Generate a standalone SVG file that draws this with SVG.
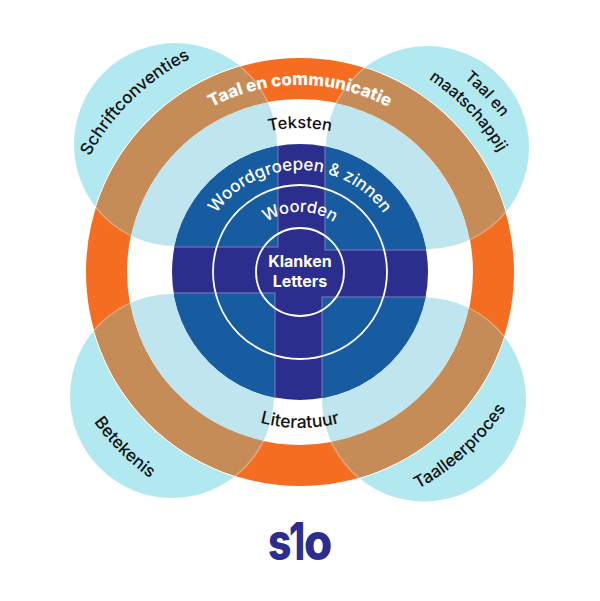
<svg xmlns="http://www.w3.org/2000/svg" width="600" height="601" viewBox="0 0 600 601">
<style>
text{font-family:Inter,"Noto Sans","Liberation Sans",sans-serif}
.b{fill:#111;font-size:17px;font-weight:500}
.w{fill:#fff;font-size:17px;font-weight:500}
.m{text-anchor:middle}
.q{fill:#175ca0;stroke:#7272ba;stroke-width:1.2}
.l{fill:none;stroke:#fff;stroke-width:1.8}
.e{fill:none;stroke:#fff;stroke-opacity:.3;stroke-width:1.5}
</style>
<defs>
<clipPath id="cu"><circle cx="175.5" cy="144.5" r="101.5"/><circle cx="427.5" cy="147.5" r="101.5"/><circle cx="172" cy="396" r="102"/><circle cx="424" cy="399.5" r="102"/></clipPath>
<clipPath id="ci"><circle cx="300" cy="272" r="173"/></clipPath>
<clipPath id="cr"><path clip-rule="evenodd" d="M86 272a214 214 0 1 0 428 0a214 214 0 1 0-428 0zM127 272a173 173 0 1 0 346 0a173 173 0 1 0-346 0z"/></clipPath>
<clipPath id="cd"><circle cx="300" cy="272" r="128"/></clipPath>
<path id="p1" d="M60.6 289.6A240 240 0 0 1 324.3 33.2"/>
<path id="p2" d="M327.9 19.6A254 254 0 0 1 553.5 256.3"/>
<path id="p3" d="M285 40.5A232 232 0 0 1 530.6 297.7"/>
<path id="p4" d="M46 294.2A255 255 0 0 0 277.8 526"/>
<path id="p5" d="M267.8 516.9A247 247 0 0 0 546.8 261.2"/>
<path id="p6" d="M124.3 208A187 187 0 0 1 475.7 208"/>
<path id="p7" d="M175.3 200A144 144 0 0 1 424.7 200"/>
<path id="p8" d="M164.9 350A156 156 0 0 0 435.1 350"/>
<path id="p9" d="M199.6 254A102 102 0 0 1 400.4 254"/>
<path id="p10" d="M240.2 267A60 60 0 0 1 359.8 267"/>
</defs>
<rect width="600" height="601" fill="#fff"/>
<g id="circles" fill="#b2e9f0">
<circle cx="175.5" cy="144.5" r="101.5"/><circle cx="427.5" cy="147.5" r="101.5"/><circle cx="172" cy="396" r="102"/><circle cx="424" cy="399.5" r="102"/>
</g>
<circle cx="300" cy="272" r="215" fill="#fff"/>
<g clip-path="url(#ci)"><rect x="60" y="30" width="480" height="480" fill="#bfe6ee" clip-path="url(#cu)"/></g>
<g id="ring">
<circle cx="300" cy="272" r="193.5" fill="none" stroke="#f46d20" stroke-width="41"/>
<g clip-path="url(#cu)"><circle cx="300" cy="272" r="193.5" fill="none" stroke="#c68c57" stroke-width="41"/></g>
<g clip-path="url(#cr)">
<circle class="e" cx="175.5" cy="144.5" r="101.5"/><circle class="e" cx="427.5" cy="147.5" r="101.5"/><circle class="e" cx="172" cy="396" r="102"/><circle class="e" cx="424" cy="399.5" r="102"/>
</g>
</g>
<g id="disc">
<circle cx="300" cy="272" r="128" fill="#2b2e8c"/>
<g clip-path="url(#cd)">
<rect class="q" x="100" y="100" width="178" height="147"/>
<rect class="q" x="325" y="100" width="180" height="150"/>
<rect class="q" x="100" y="293" width="175" height="180"/>
<rect class="q" x="322" y="297" width="180" height="180"/>
</g>
<circle class="l" cx="300" cy="272" r="87"/>
<circle class="l" cx="300" cy="272" r="44"/>
</g>
<g id="labels">
<text class="b"><textPath href="#p1" startOffset="50%" text-anchor="middle">Schriftconventies</textPath></text>
<text class="b" style="font-size:16px"><textPath href="#p2" startOffset="50%" text-anchor="middle">Taal en</textPath></text>
<text class="b" style="font-size:16px"><textPath href="#p3" startOffset="50%" text-anchor="middle">maatschappij</textPath></text>
<text class="b"><textPath href="#p4" startOffset="50%" text-anchor="middle">Betekenis</textPath></text>
<text class="b"><textPath href="#p5" startOffset="50%" text-anchor="middle">Taalleerproces</textPath></text>
<text class="w" style="font-weight:800;font-size:17px"><textPath href="#p6" startOffset="50%" text-anchor="middle">Taal en communicatie</textPath></text>
<text class="b" style="font-size:16.5px"><textPath href="#p7" startOffset="50%" text-anchor="middle">Teksten</textPath></text>
<text class="b" style="font-size:17.5px"><textPath href="#p8" startOffset="50%" text-anchor="middle">Literatuur</textPath></text>
<text class="w" style="font-size:17px"><textPath href="#p9" startOffset="50%" text-anchor="middle">Woordgroepen &amp; zinnen</textPath></text>
<text class="w" style="font-size:16.5px"><textPath href="#p10" startOffset="50%" text-anchor="middle">Woorden</textPath></text>
<text class="w m" x="300" y="267" style="font-size:16px;font-weight:700">Klanken</text>
<text class="w m" x="300" y="287" style="font-size:16px;font-weight:700">Letters</text>
</g>
<g id="logo" fill="#2b2e8c" style="font-weight:800;font-size:51px">
<text transform="translate(268 560) scale(.8 1)">s</text>
<text transform="translate(289 560) scale(.7 1)" style="font-size:52px">1</text>
<text transform="translate(304 560) scale(.9 1)">o</text>
</g>
</svg>
